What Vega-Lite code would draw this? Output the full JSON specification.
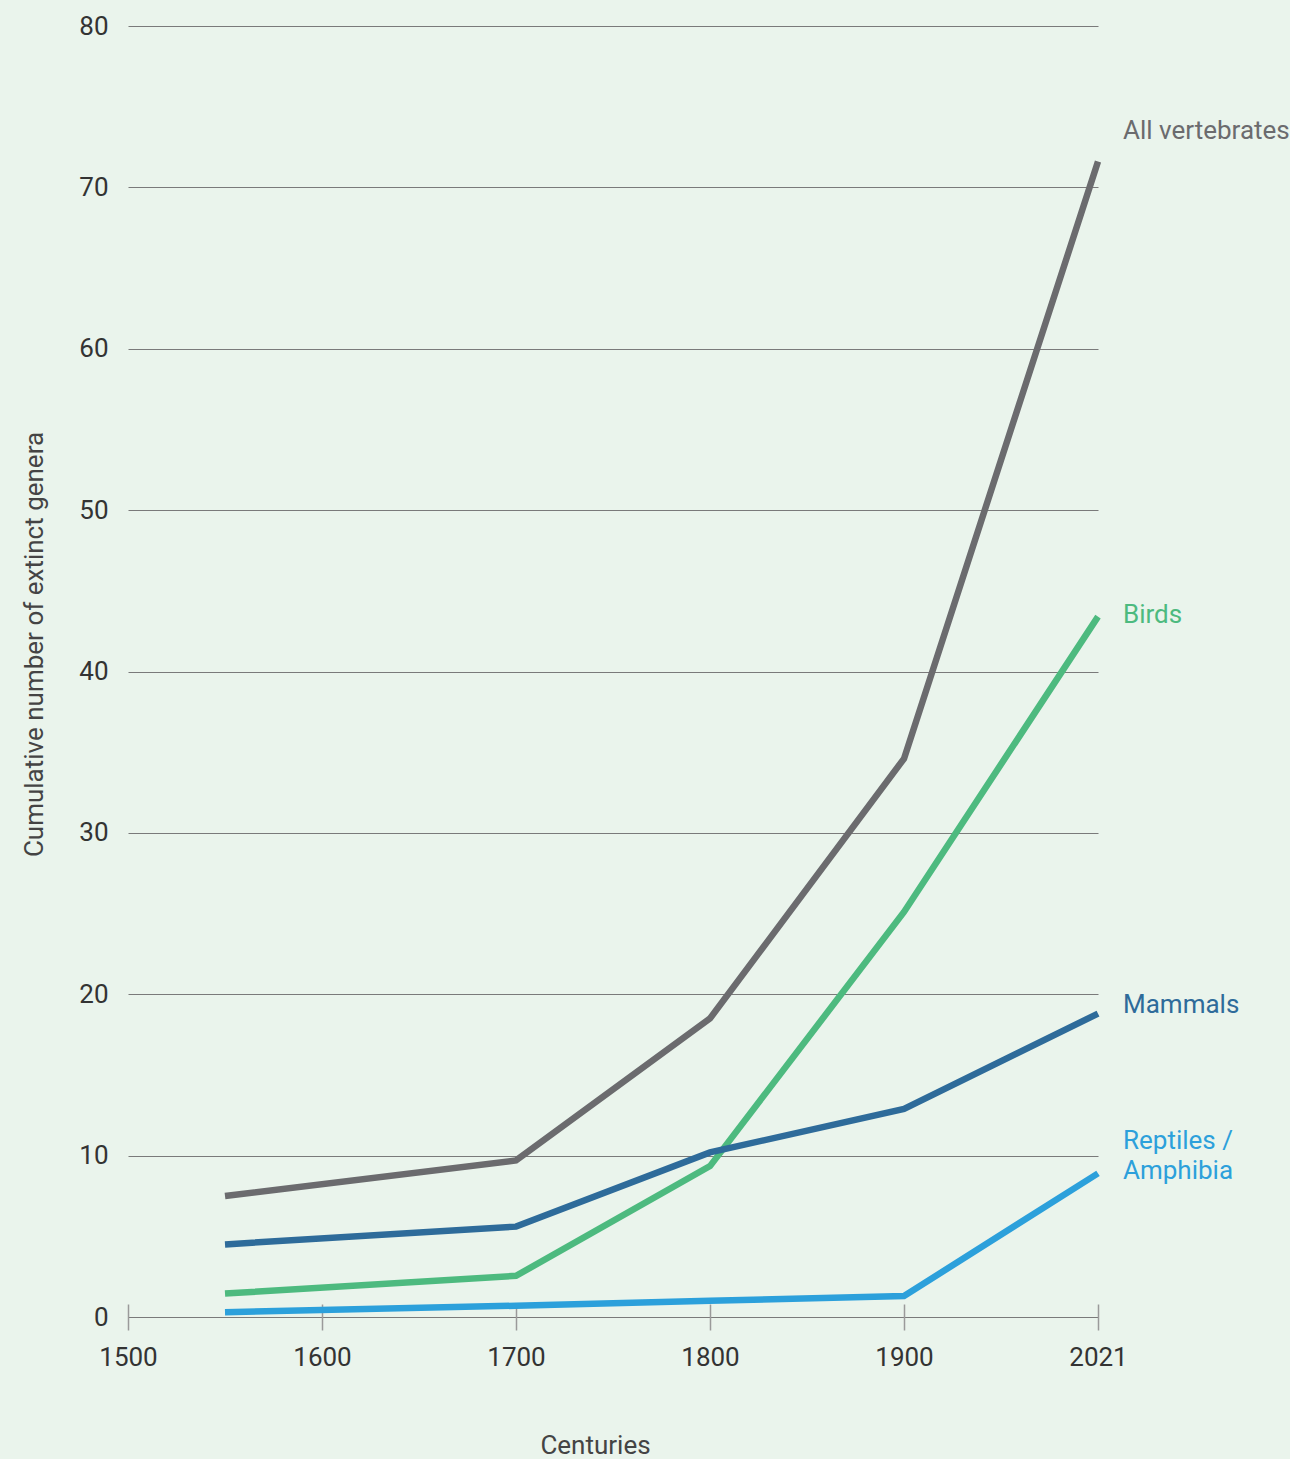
{
  "$schema": "https://vega.github.io/schema/vega-lite/v6.json",
  "autosize": {"type": "none"},
  "width": 970,
  "height": 1291,
  "padding": {"left": 128, "top": 26, "right": 192, "bottom": 142},
  "background": "#eaf4ec",
  "config": {
    "view": {"stroke": null},
    "font": "Roboto",
    "axis": {"labelFont": "Roboto", "titleFont": "Roboto", "titleFontWeight": "normal"}
  },
  "data": {
    "values": [
      {"year": 1550, "group": "All vertebrates", "genera": 7.5},
      {"year": 1700, "group": "All vertebrates", "genera": 9.7},
      {"year": 1800, "group": "All vertebrates", "genera": 18.5},
      {"year": 1900, "group": "All vertebrates", "genera": 34.6},
      {"year": 2021, "group": "All vertebrates", "genera": 71.6},
      {"year": 1550, "group": "Birds", "genera": 1.45},
      {"year": 1700, "group": "Birds", "genera": 2.55},
      {"year": 1800, "group": "Birds", "genera": 9.35},
      {"year": 1900, "group": "Birds", "genera": 25.1},
      {"year": 2021, "group": "Birds", "genera": 43.4},
      {"year": 1550, "group": "Mammals", "genera": 4.5},
      {"year": 1700, "group": "Mammals", "genera": 5.6},
      {"year": 1800, "group": "Mammals", "genera": 10.2},
      {"year": 1900, "group": "Mammals", "genera": 12.9},
      {"year": 2021, "group": "Mammals", "genera": 18.8},
      {"year": 1550, "group": "Reptiles / Amphibia", "genera": 0.3},
      {"year": 1700, "group": "Reptiles / Amphibia", "genera": 0.7},
      {"year": 1800, "group": "Reptiles / Amphibia", "genera": 1.0},
      {"year": 1900, "group": "Reptiles / Amphibia", "genera": 1.3},
      {"year": 2021, "group": "Reptiles / Amphibia", "genera": 8.9}
    ]
  },
  "encoding": {
    "x": {
      "field": "year",
      "type": "quantitative",
      "title": "Centuries",
      "scale": {"domain": [1500, 1900, 2021], "range": [0, 776, 970], "nice": false, "zero": false},
      "axis": {
        "values": [1500, 1600, 1700, 1800, 1900, 2021],
        "format": "d",
        "grid": false,
        "domain": false,
        "offset": -13,
        "tickColor": "#9a9a9a",
        "tickWidth": 1.5,
        "tickSize": 26,
        "labelFontSize": 26,
        "labelColor": "#333333",
        "labelPadding": 14,
        "labelFlush": false,
        "titleFontSize": 26,
        "titleColor": "#444444",
        "titleX": 467,
        "titleY": 141,
        "titleAlign": "center",
        "titleBaseline": "middle"
      }
    },
    "y": {
      "field": "genera",
      "type": "quantitative",
      "title": "Cumulative number of extinct genera",
      "scale": {"domain": [0, 80], "nice": false},
      "axis": {
        "values": [0, 10, 20, 30, 40, 50, 60, 70, 80],
        "domain": false,
        "ticks": false,
        "gridColor": "#7a7a7a",
        "gridWidth": 1,
        "labelFontSize": 26,
        "labelColor": "#333333",
        "labelPadding": 20,
        "titleFontSize": 26,
        "titleColor": "#444444",
        "titleX": -94,
        "titleY": 618,
        "titleAlign": "center",
        "titleBaseline": "middle"
      }
    },
    "color": {
      "field": "group",
      "type": "nominal",
      "legend": null,
      "scale": {
        "domain": ["All vertebrates", "Birds", "Mammals", "Reptiles / Amphibia"],
        "range": ["#6b6b6e", "#4dba7f", "#2e6b9a", "#2ca0db"]
      }
    }
  },
  "layer": [
    {
      "mark": {"type": "line", "strokeWidth": 6.5, "strokeJoin": "miter", "strokeCap": "butt"}
    },
    {
      "transform": [{"filter": "datum.year === 2021 && datum.group === 'All vertebrates'"}],
      "mark": {"type": "text", "align": "left", "baseline": "middle", "dx": 25, "dy": -31, "fontSize": 26},
      "encoding": {"text": {"field": "group"}}
    },
    {
      "transform": [{"filter": "datum.year === 2021 && datum.group === 'Birds'"}],
      "mark": {"type": "text", "align": "left", "baseline": "middle", "dx": 25, "dy": -2, "fontSize": 26},
      "encoding": {"text": {"field": "group"}}
    },
    {
      "transform": [{"filter": "datum.year === 2021 && datum.group === 'Mammals'"}],
      "mark": {"type": "text", "align": "left", "baseline": "middle", "dx": 25, "dy": -9, "fontSize": 26},
      "encoding": {"text": {"field": "group"}}
    },
    {
      "transform": [{"filter": "datum.year === 2021 && datum.group === 'Reptiles / Amphibia'"}],
      "mark": {"type": "text", "align": "left", "baseline": "middle", "dx": 25, "dy": -32, "fontSize": 26, "lineHeight": 30},
      "encoding": {"text": {"value": ["Reptiles /", "Amphibia"]}}
    }
  ]
}
